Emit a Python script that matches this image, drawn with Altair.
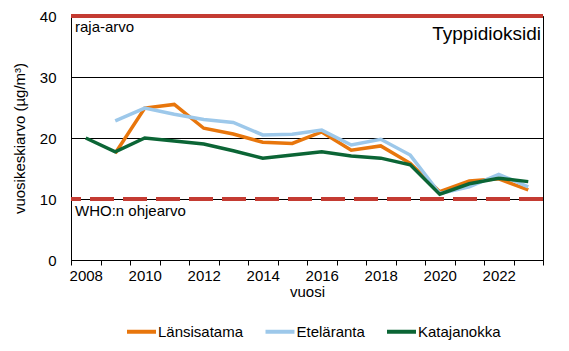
import altair as alt
import pandas as pd

years = list(range(2008, 2024))
lansisatama = [None, 17.5, 24.9, 25.5, 21.6, 20.65, 19.3, 19.1, 21.0, 18.0, 18.7, 15.85, 11.2, 12.95, 13.3, 11.5]
etelaranta = [None, 22.8, 24.9, 23.9, 23.05, 22.55, 20.5, 20.6, 21.3, 18.85, 19.8, 17.2, 10.9, 12.0, 14.05, 12.0]
katajanokka = [20.0, 17.75, 20.0, 19.5, 19.0, 17.9, 16.7, 17.2, 17.75, 17.05, 16.7, 15.6, 10.8, 12.5, 13.4, 12.85]
series = ["Länsisatama", "Eteläranta", "Katajanokka"]
colors = ["#E8760C", "#9DC8EA", "#0B6535"]
x_ticks = [2007.5 + i for i in range(17)]
y_ticks = [0, 10, 20, 30, 40]
limit_values = [40, 10]
limit_labels = ["raja-arvo", "WHO:n ohjearvo"]
chart_title = "Typpidioksidi"

FONT = "Liberation Sans"

rows = []
for name, vals in zip(series, [lansisatama, etelaranta, katajanokka]):
    for y, v in zip(years, vals):
        if v is not None:
            rows.append({"vuosi": y, "asema": name, "arvo": v})
df = pd.DataFrame(rows)

xscale = alt.Scale(domain=[2007.5, 2023.5], nice=False, zero=False)
yscale = alt.Scale(domain=[0, 40], nice=False)

x_axis = alt.Axis(
    values=x_ticks,
    labelExpr="((datum.value + 0.5) % 2 == 0 && datum.value < 2023) ? format(datum.value + 0.5, 'd') : ''",
    labelOffset=14.75,
    labelFlush=False,
    labelOverlap=False,
    tickSize=5,
    tickColor="black",
    domainColor="black",
    grid=False,
    labelFontSize=15,
    labelColor="black",
    labelFont=FONT,
    labelPadding=3,
    title="vuosi",
    titleFont=FONT,
    titleFontSize=15,
    titleFontWeight="normal",
    titleColor="black",
    titlePadding=1,
)
y_axis = alt.Axis(
    values=y_ticks,
    ticks=False,
    grid=True,
    gridColor="black",
    gridWidth=1,
    gridOpacity=1,
    domainColor="black",
    labelFontSize=15,
    labelColor="black",
    labelFont=FONT,
    labelPadding=15,
    title="vuosikeskiarvo (µg/m³)",
    titleFont=FONT,
    titleFontSize=15,
    titleFontWeight="normal",
    titleColor="black",
    titlePadding=12,
)

lines = alt.Chart(df).mark_line(strokeWidth=3.5).encode(
    x=alt.X("vuosi:Q", scale=xscale, axis=x_axis),
    y=alt.Y("arvo:Q", scale=yscale, axis=y_axis),
    color=alt.Color(
        "asema:N",
        scale=alt.Scale(domain=series, range=colors),
        sort=series,
        legend=alt.Legend(
            title=None,
            orient="none",
            direction="horizontal",
            legendX=54,
            legendY=299,
            symbolType="stroke",
            symbolSize=841,
            symbolStrokeWidth=4,
            labelFontSize=15,
            labelFont=FONT,
            labelColor="black",
            labelOffset=0,
            columnPadding=13.5,
        ),
    ),
)

limits = pd.DataFrame({"arvo": limit_values, "nimi": limit_labels})

rule40 = alt.Chart(limits[limits.arvo == 40]).mark_rule(
    color="#C43B32", strokeWidth=4
).encode(y=alt.Y("arvo:Q", scale=yscale))
rule10 = alt.Chart(limits[limits.arvo == 10]).mark_rule(
    color="#C43B32", strokeWidth=4, strokeDash=[24, 9]
).encode(y=alt.Y("arvo:Q", scale=yscale))

lbl40 = alt.Chart(limits[limits.arvo == 40]).mark_text(
    align="left", baseline="top", dx=0, dy=4, fontSize=15, font=FONT, color="black"
).encode(x=alt.value(4), y=alt.Y("arvo:Q", scale=yscale), text="nimi:N")
lbl10 = alt.Chart(limits[limits.arvo == 10]).mark_text(
    align="left", baseline="top", dy=5, fontSize=15, font=FONT, color="black"
).encode(x=alt.value(4), y=alt.Y("arvo:Q", scale=yscale), text="nimi:N")

title_mark = alt.Chart(pd.DataFrame({"t": [chart_title]})).mark_text(
    align="right", baseline="alphabetic", fontSize=19, font=FONT, color="black"
).encode(x=alt.value(470), y=alt.value(24), text="t:N")

chart = alt.layer(rule10, lines, rule40, lbl40, lbl10, title_mark).properties(
    width=472,
    height=244,
    autosize=alt.AutoSizeParams(type="none"),
    padding={"left": 71, "top": 16, "right": 26, "bottom": 91},
    background="white",
).configure_view(stroke="black", strokeWidth=1)

chart.save("out.html", embed_options={"renderer": "svg", "actions": False})
